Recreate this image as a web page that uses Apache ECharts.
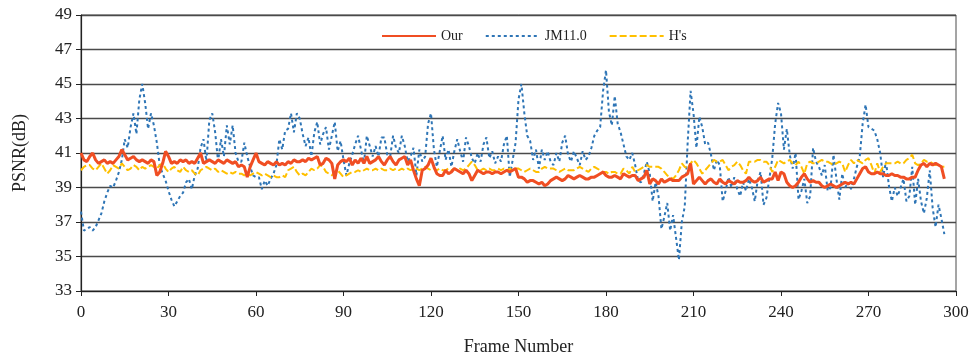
<!DOCTYPE html>
<html>
<head>
<meta charset="utf-8">
<script src="https://cdn.jsdelivr.net/npm/echarts@6/dist/echarts.min.js"></script>
<style>
  html, body { margin: 0; padding: 0; background: #fff; }
  #chart { width: 972px; height: 361px; }
</style>
</head>
<body>
<div id="chart"></div>
<script>
// PSNR per frame, frames 0..296
const ourValues = [
  41.0, 40.6, 40.5, 40.8, 41.0, 40.6, 40.4, 40.5, 40.6, 40.4,
  40.5, 40.4, 40.6, 40.8, 41.2, 40.9, 40.6, 40.7, 40.8, 40.6,
  40.5, 40.6, 40.5, 40.4, 40.6, 40.5, 39.7, 39.9, 40.4, 41.1,
  40.8, 40.4, 40.5, 40.4, 40.6, 40.5, 40.6, 40.4, 40.5, 40.4,
  40.7, 41.0, 40.4, 40.5, 40.6, 40.5, 40.4, 40.6, 40.5, 40.4,
  40.6, 40.5, 40.4, 40.5, 40.2, 40.3, 40.2, 39.6, 40.2, 40.6,
  41.0, 40.5, 40.4, 40.3, 40.5, 40.4, 40.3, 40.5, 40.3, 40.4,
  40.3, 40.5, 40.4, 40.6, 40.5, 40.5, 40.6, 40.5, 40.7, 40.6,
  40.7, 40.8, 40.3, 40.4, 40.7, 40.6, 40.4, 39.5, 40.3, 40.5,
  40.6, 40.5, 40.7, 40.3, 40.6, 40.4, 40.7, 40.4, 40.8, 40.4,
  40.5, 40.6, 40.8, 40.5, 40.3, 40.6, 40.8, 40.5, 40.3, 40.6,
  40.7, 40.8, 40.3, 40.6, 40.0, 39.5, 39.1, 40.0, 40.1, 40.3,
  40.7, 40.2, 39.8, 39.7, 39.7, 40.0, 39.8, 39.9, 40.1, 40.0,
  39.9, 39.8, 40.0, 39.8, 39.4, 39.7, 40.0, 39.9, 39.8, 39.9,
  39.9, 39.8, 39.9, 39.9, 39.8, 39.9, 40.0, 39.9, 40.0, 40.1,
  39.6, 39.6, 39.5, 39.3, 39.4, 39.4, 39.3, 39.2, 39.3, 39.1,
  39.2, 39.4, 39.5, 39.6, 39.5, 39.4, 39.5, 39.7, 39.6, 39.5,
  39.6, 39.7, 39.6, 39.5, 39.5, 39.6, 39.6, 39.7, 39.8, 39.9,
  39.7, 39.6, 39.6, 39.7, 39.6, 39.5, 39.8, 39.7, 39.6, 39.7,
  39.7, 39.4, 39.5, 39.6, 40.0, 39.2, 39.5, 39.4, 39.2, 39.5,
  39.3, 39.4, 39.5, 39.4, 39.4, 39.4, 39.6, 39.7, 39.8, 40.4,
  39.2, 39.4, 39.6, 39.4, 39.2, 39.4, 39.5, 39.3, 39.2, 39.5,
  39.3, 39.2, 39.4, 39.3, 39.2, 39.4, 39.3, 39.3, 39.4, 39.6,
  39.4, 39.3, 39.4, 39.6, 39.3, 39.4, 39.5, 39.5, 39.9, 39.4,
  39.9, 39.8, 39.3, 39.1, 39.0, 39.1, 39.3, 39.6, 39.8, 39.5,
  39.3, 39.4, 39.3, 39.3, 39.1, 39.0, 39.1, 39.2, 39.1, 39.0,
  39.1, 39.2, 39.3, 39.2, 39.3, 39.2, 39.5, 39.8, 40.1, 40.2,
  39.9, 39.8, 39.8, 39.9, 39.8, 39.8, 39.7, 39.7, 39.8, 39.7,
  39.7, 39.6, 39.6, 39.5, 39.5, 39.6, 39.6, 40.0, 40.3, 40.4,
  40.2, 40.4, 40.3, 40.4, 40.3, 40.2, 39.5
]

const jmValues = [
  37.6, 36.5, 36.6, 36.7, 36.5, 36.7, 37.1, 37.5, 38.2, 38.7,
  39.1, 39.0, 39.4, 39.9, 40.6, 41.8, 41.3, 42.5, 43.3, 42.1,
  44.1, 45.0, 43.9, 42.4, 43.3, 42.6, 41.6, 40.3, 39.8, 39.4,
  38.8, 38.3, 37.9, 38.2, 38.5, 38.7, 39.3, 39.5, 38.9, 39.7,
  40.1, 41.3, 41.8, 40.5, 42.9, 43.3, 42.2, 40.5, 41.8, 40.8,
  42.6, 41.5, 42.6, 41.0, 40.5, 40.5, 41.6, 40.8, 40.2, 39.7,
  39.6, 39.6, 38.9, 39.4, 39.1, 39.5, 39.8, 40.3, 41.8, 41.2,
  42.3, 42.4, 43.3, 42.2, 43.3, 43.0, 42.1, 41.4, 41.9, 40.8,
  42.2, 42.8, 41.5, 42.1, 42.5, 41.2, 42.0, 42.8, 41.1, 41.7,
  40.6, 39.7, 40.4, 40.9, 41.5, 42.0, 41.2, 40.4, 42.0, 41.4,
  40.8, 41.4, 40.8, 41.9, 41.9, 40.9, 40.8, 42.0, 41.3, 41.0,
  42.0, 41.4, 40.5, 40.8, 41.3, 39.7, 41.2, 40.5, 40.8, 42.7,
  43.3, 41.2, 40.2, 41.1, 42.0, 40.6, 41.2, 40.2, 41.1, 41.8,
  41.1, 40.5, 41.9, 41.4, 40.7, 40.4, 41.0, 40.5, 41.5, 41.9,
  40.7, 41.1, 40.4, 40.8, 40.5, 41.5, 42.0, 39.6, 40.6, 41.6,
  44.1, 45.0, 43.3, 42.0, 41.7, 40.6, 41.2, 40.1, 41.2, 40.6,
  41.1, 40.5, 40.3, 41.0, 40.5, 41.6, 42.0, 40.9, 40.5, 41.1,
  40.7, 40.3, 41.1, 40.6, 40.8, 41.3, 42.0, 42.3, 42.5, 44.6,
  45.8, 43.4, 42.6, 44.3, 42.7, 42.2, 41.5, 40.8, 40.6, 41.0,
  40.3, 39.4, 39.3, 39.8, 40.5, 39.8, 38.2, 39.3, 38.5, 36.6,
  37.3, 38.1, 36.5, 37.4, 36.1, 34.8, 37.0, 37.9, 41.6, 44.6,
  43.3, 41.3, 43.1, 42.5, 41.5, 41.6, 40.9, 40.0, 40.6, 40.3,
  38.2, 38.8, 39.6, 39.0, 39.6, 38.9, 38.5, 39.3, 38.8, 39.5,
  39.0, 38.2, 39.4, 39.9, 38.0, 38.4, 39.5, 40.7, 42.7, 43.9,
  43.3, 41.2, 42.4, 40.9, 40.1, 41.0, 38.3, 38.8, 39.5, 38.1,
  38.5, 41.3, 40.5, 40.2, 39.7, 40.3, 38.8, 39.0, 40.9, 39.5,
  38.3, 39.8, 39.0, 39.3, 38.9, 39.5, 40.2, 40.8, 42.7, 43.8,
  42.5, 42.4, 42.3, 41.8, 41.0, 39.6, 40.5, 39.1, 38.2, 39.0,
  38.5, 39.0, 39.5, 38.2, 38.5, 40.2, 38.0, 39.5, 38.2, 37.5,
  38.4, 40.0, 37.8, 36.7, 38.0, 37.2, 36.3
]

const hValues = [
  40.0, 40.2, 40.3, 40.3, 40.1, 40.0, 40.2, 40.4, 40.1, 39.8,
  40.0, 40.3, 40.2, 40.1, 40.4, 40.2, 40.0, 40.1, 40.3, 40.2,
  40.0, 40.2, 40.1, 40.2, 40.3, 40.2, 40.1, 40.3, 40.4, 40.1,
  39.9, 40.1, 40.2, 40.0, 39.9, 40.2, 40.0, 39.9, 40.0, 39.8,
  39.7, 40.0, 40.1, 40.2, 40.1, 40.0, 40.1, 39.9, 40.0, 39.9,
  39.8, 39.9, 39.8, 39.9, 39.8, 39.8, 39.7, 39.8, 39.7, 39.8,
  39.9, 39.8, 39.7, 39.8, 39.7, 39.6, 39.7, 39.6, 39.6, 39.7,
  39.6, 40.0, 40.1, 40.2, 39.9, 39.7, 39.8, 39.7, 39.9, 40.1,
  40.0, 40.1, 40.3, 40.2, 39.9, 39.8, 39.7, 39.9, 40.0, 39.8,
  39.6, 39.7, 39.8, 39.9, 39.9, 40.0, 39.9, 40.0, 40.1, 40.0,
  40.0, 40.1, 40.0, 40.1, 40.0, 40.0, 40.1, 40.0, 40.1, 40.0,
  40.1, 40.0, 40.1, 40.0, 40.1, 40.1, 40.0, 40.1, 40.2, 40.1,
  40.0, 40.1, 40.0, 40.1, 40.0, 40.0, 40.1, 40.0, 40.1, 40.0,
  40.1, 40.0, 40.1, 40.3, 40.5, 40.3, 40.0, 40.0, 40.1, 40.0,
  40.1, 40.0, 40.0, 40.1, 40.0, 40.1, 40.0, 40.1, 40.0, 40.1,
  40.1, 40.0, 39.9, 40.0, 40.1, 40.0, 39.9, 39.9, 40.1, 40.2,
  40.1, 40.1, 40.1, 40.0, 39.9, 40.0, 40.1, 40.0, 40.0, 40.0,
  40.1, 40.2, 40.1, 40.0, 39.9, 40.1, 40.2, 40.1, 40.0, 39.9,
  39.9, 39.8, 39.9, 39.9, 39.8, 39.8, 40.1, 40.0, 39.8, 40.2,
  39.9, 40.0, 40.1, 40.2, 40.3, 40.2, 40.2, 40.2, 40.2, 40.1,
  39.9, 39.7, 39.6, 39.5, 39.7, 40.0, 40.4, 40.2, 40.1, 40.4,
  40.6, 40.4, 40.1, 39.8, 40.0, 40.2, 40.4, 40.6, 40.5, 40.5,
  40.6, 40.3, 40.0, 40.2, 40.3, 40.5, 40.3, 40.0, 39.8, 40.5,
  40.5, 40.5, 40.6, 40.6, 40.5, 40.5, 40.3, 39.9, 40.2, 40.6,
  40.5, 40.4, 40.5, 40.6, 40.4, 40.3, 40.5, 40.2, 39.8, 40.4,
  40.5, 40.4, 40.4, 40.5, 40.6, 40.5, 40.5, 40.4, 40.3, 40.4,
  40.5, 40.4, 39.9, 40.3, 40.6, 40.4, 40.6, 40.5, 40.4, 40.6,
  40.7, 40.3, 39.8, 40.4, 39.9, 40.2, 40.4, 40.4, 40.4, 40.4,
  40.5, 40.4, 40.4, 40.6, 40.7, 40.9, 40.4, 40.3, 40.4, 40.6,
  40.5, 40.5, 40.4, 40.3, 40.3, 40.2, 40.2
]

const serif = '"Liberation Serif", "DejaVu Serif", serif'

const toPairs = (vals) => vals.map((v, i) => [i, v])

const chart = echarts.init(document.getElementById('chart'))

chart.setOption({
  animation: false,
  backgroundColor: '#fff',
  grid: {
    left: 81, right: 16, top: 15, bottom: 68,
    show: true, borderColor: '#4a4a4a', borderWidth: 1
  },
  legend: {
    top: 24,
    left: 376,
    itemWidth: 54,
    itemHeight: 12,
    itemGap: 22,
    itemStyle: { opacity: 0 },
    textStyle: { fontFamily: serif, fontSize: 14, color: '#222' },
    data: ['Our', 'JM11.0', "H's"]
  },
  xAxis: {
    type: 'value',
    min: 0, max: 300, interval: 30,
    name: 'Frame Number',
    nameLocation: 'middle',
    nameGap: 47,
    nameTextStyle: { fontFamily: serif, fontSize: 18, color: '#222' },
    axisLine: { lineStyle: { color: '#222', width: 1.2 } },
    axisTick: { length: 5, lineStyle: { color: '#222' } },
    axisLabel: { fontFamily: serif, fontSize: 17, color: '#222', margin: 13 },
    splitLine: { show: false }
  },
  yAxis: {
    type: 'value',
    min: 33, max: 49, interval: 2,
    name: 'PSNR(dB)',
    nameLocation: 'middle',
    nameRotate: 90,
    nameGap: 52,
    nameTextStyle: { fontFamily: serif, fontSize: 18, color: '#222' },
    axisLine: { show: true, lineStyle: { color: '#222', width: 1.2 } },
    axisTick: { show: true, length: 5, lineStyle: { color: '#222' } },
    axisLabel: { fontFamily: serif, fontSize: 17, color: '#222', margin: 9 },
    splitLine: { show: true, lineStyle: { color: '#4a4a4a', width: 1.3 } }
  },
  series: [
    {
      name: 'JM11.0',
      type: 'line',
      data: toPairs(jmValues),
      symbol: 'none',
      z: 2,
      lineStyle: { color: '#2e75b6', width: 2, type: [3, 3] },
      itemStyle: { color: '#2e75b6' }
    },
    {
      name: "H's",
      type: 'line',
      data: toPairs(hValues),
      symbol: 'none',
      z: 3,
      lineStyle: { color: '#ffc000', width: 2, type: [7, 3] },
      itemStyle: { color: '#ffc000' }
    },
    {
      name: 'Our',
      type: 'line',
      data: toPairs(ourValues),
      symbol: 'none',
      z: 4,
      lineStyle: { color: '#f04e23', width: 3 },
      itemStyle: { color: '#f04e23' }
    }
  ]
})
</script>
</body>
</html>
